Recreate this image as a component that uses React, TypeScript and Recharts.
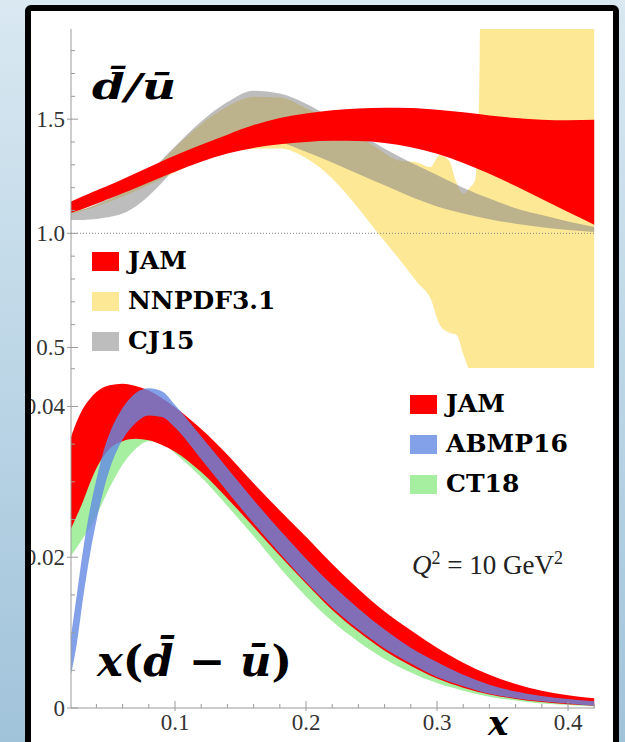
import React from 'react';
import { ComposedChart, Area, XAxis, YAxis, ReferenceLine, Legend } from 'recharts';

// ── Data ──────────────────────────────────────────────────────────────────────

/** Shared x grid for the smooth bands */
const X_GRID = [
  0.02, 0.025, 0.03, 0.035, 0.04, 0.045, 0.05, 0.06, 0.07, 0.08, 0.09, 0.1,
  0.12, 0.14, 0.16, 0.18, 0.2, 0.22, 0.24, 0.26, 0.28, 0.3, 0.32, 0.34, 0.36,
  0.38, 0.4, 0.42,
];

// upper panel: dbar/ubar
const JAM_RATIO_LO = [
  1.088, 1.098, 1.108, 1.119, 1.13, 1.141, 1.152, 1.175, 1.199, 1.223, 1.247, 1.27,
  1.314, 1.35, 1.374, 1.39, 1.4, 1.405, 1.404, 1.396, 1.377, 1.348, 1.308, 1.261,
  1.207, 1.15, 1.093, 1.038,
];
const JAM_RATIO_HI = [
  1.138, 1.15, 1.163, 1.176, 1.188, 1.2, 1.212, 1.237, 1.263, 1.289, 1.316, 1.341,
  1.388, 1.432, 1.474, 1.505, 1.525, 1.539, 1.547, 1.55, 1.549, 1.541, 1.53, 1.516,
  1.505, 1.498, 1.495, 1.497,
];
const CJ15_LO = [
  1.06, 1.058, 1.058, 1.06, 1.063, 1.067, 1.072, 1.087, 1.118, 1.165, 1.222, 1.283,
  1.362, 1.402, 1.415, 1.4, 1.357, 1.31, 1.26, 1.21, 1.16, 1.118, 1.087, 1.062,
  1.042, 1.027, 1.015, 1.006,
];
const CJ15_HI = [
  1.09, 1.097, 1.105, 1.115, 1.127, 1.14, 1.153, 1.182, 1.218, 1.266, 1.322, 1.38,
  1.49, 1.575, 1.625, 1.612, 1.568, 1.505, 1.44, 1.37, 1.31, 1.255, 1.2, 1.152,
  1.11, 1.08, 1.052, 1.028,
];
const NNPDF_X = [
  0.02, 0.03, 0.04, 0.05, 0.06, 0.07, 0.08, 0.09, 0.1, 0.12,
  0.14, 0.16, 0.18, 0.2, 0.22, 0.24, 0.255, 0.27, 0.285, 0.295,
  0.302, 0.309, 0.315, 0.32, 0.325, 0.329, 0.332, 0.335, 0.36, 0.42,
];
const NNPDF_LO = [
  1.085, 1.1, 1.118, 1.138, 1.16, 1.185, 1.212, 1.24, 1.268, 1.318,
  1.352, 1.37, 1.372, 1.33, 1.24, 1.11, 1.0, 0.895, 0.785, 0.715,
  0.6, 0.566, 0.555, 0.47, 0.39, 0.3, 0.25, 0.2, 0.0, 0.0,
];
const NNPDF_HI = [
  1.092, 1.105, 1.125, 1.148, 1.178, 1.215, 1.262, 1.318, 1.375, 1.478,
  1.555, 1.598, 1.595, 1.548, 1.488, 1.425, 1.37, 1.32, 1.31, 1.29,
  1.342, 1.32, 1.22, 1.174, 1.2, 1.232, 1.57, 3.0, 3.0, 3.0,
];

// lower panel: x(dbar - ubar)
const JAM_DIFF_LO = [
  0.0236, 0.0255, 0.0275, 0.0298, 0.0318, 0.0333, 0.0344, 0.0354, 0.0357, 0.0355,
  0.0349, 0.034, 0.0313, 0.0278, 0.024, 0.0202, 0.0165, 0.013, 0.0101, 0.0076,
  0.0056, 0.0039, 0.0027, 0.0018, 0.0012, 0.0008, 0.0005, 0.0003,
];
const JAM_DIFF_HI = [
  0.0356, 0.038, 0.0398, 0.041, 0.0419, 0.0425, 0.0428, 0.043, 0.0427, 0.0421,
  0.0411, 0.0399, 0.037, 0.0336, 0.0298, 0.0262, 0.0227, 0.0191, 0.0158, 0.0128,
  0.0103, 0.008, 0.006, 0.0044, 0.0032, 0.0023, 0.0017, 0.0013,
];
const ABMP_LO = [
  0.004, 0.0085, 0.0148, 0.0203, 0.0248, 0.0286, 0.0316, 0.0356, 0.0378, 0.0388,
  0.0386, 0.0372, 0.033, 0.0287, 0.0245, 0.0205, 0.0167, 0.0133, 0.0104, 0.0079,
  0.0059, 0.0041, 0.0029, 0.0019, 0.0013, 0.0009, 0.0006, 0.0003,
];
const ABMP_HI = [
  0.0088, 0.015, 0.0212, 0.0263, 0.0303, 0.0338, 0.0364, 0.0398, 0.0418, 0.0424,
  0.042, 0.0402, 0.036, 0.0318, 0.0276, 0.0236, 0.0198, 0.0163, 0.0132, 0.0104,
  0.008, 0.0061, 0.0044, 0.0031, 0.0022, 0.0016, 0.0012, 0.0009,
];
const CT18_LO = [
  0.02, 0.0213, 0.0226, 0.0239, 0.0255, 0.0274, 0.0292, 0.0323, 0.0344, 0.0354,
  0.0352, 0.0338, 0.0306, 0.0268, 0.0228, 0.0186, 0.0148, 0.0115, 0.0088, 0.0065,
  0.0047, 0.0033, 0.0023, 0.0015, 0.001, 0.0006, 0.0004, 0.0002,
];
const CT18_HI = [
  0.0252, 0.0268, 0.0287, 0.0305, 0.032, 0.0334, 0.0344, 0.0356, 0.0361, 0.036,
  0.0354, 0.0345, 0.0318, 0.0283, 0.0245, 0.0207, 0.017, 0.0135, 0.0105, 0.008,
  0.006, 0.0043, 0.003, 0.0021, 0.0014, 0.001, 0.0007, 0.0005,
];

// axes
const X_TICKS = [0.04, 0.06, 0.08, 0.1, 0.12, 0.14, 0.16, 0.18, 0.2, 0.22, 0.24, 0.26, 0.28, 0.3, 0.32, 0.34, 0.36, 0.38, 0.4, 0.42];
const X_MAJOR = [0.1, 0.2, 0.3, 0.4];
const RATIO_TICKS = [0.5, 0.6, 0.7, 0.8, 0.9, 1.0, 1.1, 1.2, 1.3, 1.4, 1.5, 1.6, 1.7, 1.8];
const RATIO_MAJOR = [0.5, 1.0, 1.5];
const DIFF_TICKS = [0, 0.005, 0.01, 0.015, 0.02, 0.025, 0.03, 0.035, 0.04, 0.045];
const DIFF_MAJOR = [0, 0.02, 0.04];

const TOP_LEGEND = [
  { name: 'JAM', color: '#ff0000', opacity: 1 },
  { name: 'NNPDF3.1', color: '#fde896', opacity: 1 },
  { name: 'CJ15', color: '#808080', opacity: 0.52 },
];
const BOTTOM_LEGEND = [
  { name: 'JAM', color: '#ff0000', opacity: 1 },
  { name: 'ABMP16', color: '#6389e3', opacity: 0.8 },
  { name: 'CT18', color: '#a6eea0', opacity: 1 },
];

// ── Helpers ───────────────────────────────────────────────────────────────────

const band = (xs: number[], lo: number[], hi: number[]) =>
  xs.map((x, i) => ({ x, band: [lo[i], hi[i]] }));

const AXIS_COLOR = '#9a9a9a';
const TICK_FONT = '"Liberation Serif", serif';
const BOLD_FONT = '"DejaVu Serif", serif';

const isMajor = (v: number, list: number[]) => list.some((m) => Math.abs(m - v) < 1e-9);

type Side = 'left' | 'right' | 'top' | 'bottom';

/** Inward-pointing ticks (minor/major) with labels only on majors */
const makeTick = (side: Side, majors: number[], fmt?: (v: number) => string) =>
  (props: any) => {
    const { x, y, payload } = props;
    const v = payload.value;
    const major = isMajor(v, majors);
    const len = major ? 7 : 4;
    let line: React.ReactNode = null;
    if (side === 'left') line = <line x1={major ? x - 4 : x} y1={y} x2={x + len} y2={y} />;
    if (side === 'right') line = <line x1={x - len} y1={y} x2={x} y2={y} />;
    if (side === 'top') line = <line x1={x} y1={y} x2={x} y2={y + len} />;
    if (side === 'bottom') line = <line x1={x} y1={y - len} x2={x} y2={major ? y + 3 : y} />;
    let label: React.ReactNode = null;
    if (major && fmt) {
      label = side === 'left' ? (
        <text x={x - 6} y={y} dy={8} textAnchor="end" fill="#333" stroke="none"
          style={{ fontFamily: TICK_FONT, fontSize: 23 }}>{fmt(v)}</text>
      ) : (
        <text x={x} y={y + 22} textAnchor="middle" fill="#333" stroke="none"
          style={{ fontFamily: TICK_FONT, fontSize: 23 }}>{fmt(v)}</text>
      );
    }
    return (
      <g stroke={AXIS_COLOR} strokeWidth={1}>
        {line}
        {label}
      </g>
    );
  };

const LegendBlock = ({ items }: { items: typeof TOP_LEGEND }) => (
  <div>
    {items.map((it) => (
      <div key={it.name} style={{ display: 'flex', alignItems: 'center', height: 40 }}>
        <span style={{ width: 27, height: 19, background: it.color, opacity: it.opacity, marginRight: 9 }} />
        <span style={{ fontFamily: BOLD_FONT, fontWeight: 700, fontSize: 25, color: '#000', lineHeight: '40px' }}>
          {it.name}
        </span>
      </div>
    ))}
  </div>
);

const X_DOMAIN: [number, number] = [0.0206, 0.4206];

const axisProps = {
  type: 'number' as const,
  allowDataOverflow: true,
  interval: 0 as const,
  tickLine: false,
  tickSize: 0,
  tickMargin: 0,
  axisLine: { stroke: AXIS_COLOR },
};

// ── Component ─────────────────────────────────────────────────────────────────

export default function App() {
  const jamRatio = band(X_GRID, JAM_RATIO_LO, JAM_RATIO_HI);
  const cj15 = band(X_GRID, CJ15_LO, CJ15_HI);
  const nnpdf = band(NNPDF_X, NNPDF_LO, NNPDF_HI);
  const jamDiff = band(X_GRID, JAM_DIFF_LO, JAM_DIFF_HI);
  const abmp = band(X_GRID, ABMP_LO, ABMP_HI);
  const ct18 = band(X_GRID, CT18_LO, CT18_HI);

  return (
    <div
      style={{
        position: 'absolute', left: 0, top: 0, width: 625, height: 742, overflow: 'hidden',
        background: 'linear-gradient(180deg, #d9e8f1 0%, #bcd6e6 50%, #a1c3da 100%)',
      }}
    >
      <div
        style={{
          position: 'absolute', left: 25, top: 5, width: 594, height: 780,
          boxSizing: 'border-box', border: '6px solid #000', borderRadius: 6,
          background: '#fff', overflow: 'hidden',
        }}
      >
        {/* upper panel */}
        <div style={{ position: 'absolute', left: 0, top: 0 }}>
          <ComposedChart width={570} height={357} margin={{ top: 18, right: 6, bottom: 0, left: 0 }}>
            <XAxis xAxisId="main" dataKey="x" orientation="bottom" height={0} domain={X_DOMAIN}
              ticks={X_TICKS} tick={makeTick('bottom', X_MAJOR)} {...axisProps} />
            <XAxis xAxisId="mirror" dataKey="x" orientation="top" height={0} domain={X_DOMAIN}
              ticks={X_TICKS} tick={makeTick('top', X_MAJOR)} {...axisProps} />
            <YAxis yAxisId="main" orientation="left" width={40} domain={[0.41, 1.895]}
              ticks={RATIO_TICKS} tick={makeTick('left', RATIO_MAJOR, (v) => v.toFixed(1))} {...axisProps} />
            <YAxis yAxisId="mirror" orientation="right" width={0} domain={[0.41, 1.895]}
              ticks={RATIO_TICKS} tick={makeTick('right', RATIO_MAJOR)} {...axisProps} />

            <Area xAxisId="main" yAxisId="main" data={nnpdf} dataKey="band" type="monotone"
              stroke="none" fill="#fde896" fillOpacity={1} isAnimationActive={false} />
            <Area xAxisId="main" yAxisId="main" data={cj15} dataKey="band" type="monotone"
              stroke="none" fill="#808080" fillOpacity={0.52} isAnimationActive={false} />
            <Area xAxisId="main" yAxisId="main" data={jamRatio} dataKey="band" type="monotone"
              stroke="none" fill="#ff0000" fillOpacity={1} isAnimationActive={false} />

            <ReferenceLine xAxisId="main" yAxisId="main" y={1} stroke="#8a8a8a" strokeDasharray="1 2" />

            <Legend layout="vertical" align="center" verticalAlign="middle"
              wrapperStyle={{ left: 61, top: 230, width: 'auto' }}
              content={() => <LegendBlock items={TOP_LEGEND} />} />
          </ComposedChart>
        </div>

        {/* lower panel */}
        <div style={{ position: 'absolute', left: 0, top: 357 }}>
          <ComposedChart width={570} height={380} margin={{ top: 0, right: 6, bottom: 0, left: 0 }}>
            <XAxis xAxisId="main" dataKey="x" orientation="bottom" height={40} domain={X_DOMAIN}
              ticks={X_TICKS} tick={makeTick('bottom', X_MAJOR, (v) => v.toFixed(1))} {...axisProps} />
            <XAxis xAxisId="mirror" dataKey="x" orientation="top" height={0} domain={X_DOMAIN}
              ticks={X_TICKS} tick={makeTick('top', X_MAJOR)} {...axisProps} />
            <YAxis yAxisId="main" orientation="left" width={40} domain={[0, 0.0451]}
              ticks={DIFF_TICKS} tick={makeTick('left', DIFF_MAJOR, (v) => (v === 0 ? '0' : v.toFixed(2)))} {...axisProps} />
            <YAxis yAxisId="mirror" orientation="right" width={0} domain={[0, 0.0451]}
              ticks={DIFF_TICKS} tick={makeTick('right', DIFF_MAJOR)} {...axisProps} />

            <Area xAxisId="main" yAxisId="main" data={ct18} dataKey="band" type="monotone"
              stroke="none" fill="#a6eea0" fillOpacity={1} isAnimationActive={false} />
            <Area xAxisId="main" yAxisId="main" data={jamDiff} dataKey="band" type="monotone"
              stroke="none" fill="#ff0000" fillOpacity={1} isAnimationActive={false} />
            <Area xAxisId="main" yAxisId="main" data={abmp} dataKey="band" type="monotone"
              stroke="none" fill="#6389e3" fillOpacity={0.8} isAnimationActive={false} />

            <Legend layout="vertical" align="center" verticalAlign="middle"
              wrapperStyle={{ left: 379, top: 16, width: 'auto' }}
              content={() => <LegendBlock items={BOTTOM_LEGEND} />} />
          </ComposedChart>
        </div>

        {/* panel titles and annotations */}
        <svg width={582} height={760} style={{ position: 'absolute', left: 0, top: 0, pointerEvents: 'none' }}>
          <text x={61} y={88} textLength={84} lengthAdjust="spacingAndGlyphs"
            style={{ fontFamily: BOLD_FONT, fontWeight: 700, fontStyle: 'italic', fontSize: 35 }}>
            {'d\u0304/\u016b'}
          </text>
          <text x={66} y={665} textLength={195} lengthAdjust="spacingAndGlyphs"
            style={{ fontFamily: BOLD_FONT, fontWeight: 700, fontSize: 42 }}>
            <tspan fontStyle="italic">x</tspan>
            <tspan>(</tspan>
            <tspan fontStyle="italic">{'d\u0304'}</tspan>
            <tspan>{' \u2212 '}</tspan>
            <tspan fontStyle="italic">{'\u016b'}</tspan>
            <tspan>)</tspan>
          </text>
          <text x={457} y={724}
            style={{ fontFamily: BOLD_FONT, fontWeight: 700, fontStyle: 'italic', fontSize: 34 }}>
            x
          </text>
          <text x={381} y={563} fill="#222" style={{ fontFamily: TICK_FONT, fontSize: 27 }}>
            <tspan fontStyle="italic">Q</tspan>
            <tspan dy={-10} fontSize={18}>2</tspan>
            <tspan dy={10}>{' = 10 GeV'}</tspan>
            <tspan dy={-10} fontSize={18}>2</tspan>
          </text>
        </svg>
      </div>
    </div>
  );
}
